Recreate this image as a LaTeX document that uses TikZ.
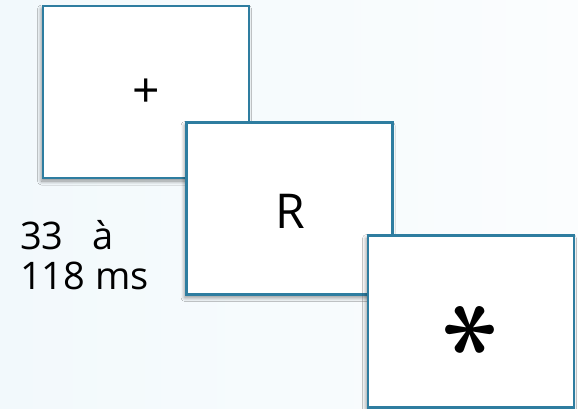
\documentclass[tikz,border=0pt]{standalone}
\usepackage{fontspec}
\setmainfont{Open Sans}
\usetikzlibrary{shadows.blur}
\definecolor{frameblue}{RGB}{46,125,160}
\definecolor{bgleft}{RGB}{242,249,252}
\definecolor{bgright}{RGB}{251,253,254}
\tikzset{
  screen/.style={
    draw=frameblue, line width=2.5pt, fill=white,
    rectangle, inner sep=0pt,
    minimum width=206pt, minimum height=172pt,
    blur shadow={shadow xshift=-1.5pt, shadow yshift=-3pt,
                 shadow blur radius=4pt, shadow blur steps=8, shadow opacity=45}
  },
  glyph/.style={font=\fontsize{48}{48}\selectfont, text=black, inner sep=0pt},
  delaytext/.style={font=\fontsize{38}{40}\selectfont, align=left, anchor=north west, inner sep=0pt}
}
\begin{document}
\begin{tikzpicture}[x=1pt, y=-1pt]
  % page and soft background
  \useasboundingbox (0,0) rectangle (578,408);
  \shade[left color=bgleft, right color=bgright] (0,0) rectangle (578,408);

  % the three successive screens
  \node[screen] (box1) at (146,92) {};
  \node[glyph] (fix) at (146,93) {+};

  \node[screen] (box2) at (289.5,208.5) {};
  \node[glyph] (letter) at (290,211) {R};

  \node[screen] (box3) at (471,321.5) {};
  \node[inner sep=0pt, rotate=90] (star) at (472,330)
    {\scalebox{11}{\boldmath$\ast$}};

  % duration label
  \node[delaytext] (delay) at (20,220) {33\hspace{0.75em}à\\118 ms};
\end{tikzpicture}
\end{document}
